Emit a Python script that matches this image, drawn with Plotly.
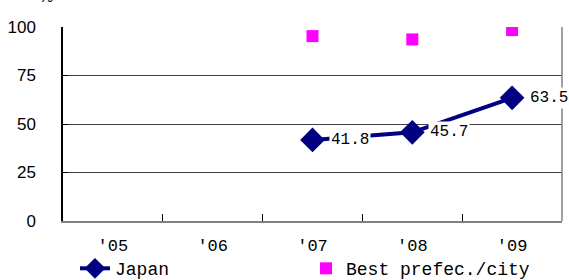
import plotly.graph_objects as go

years = ["'05", "'06", "'07", "'08", "'09"]
japan = [None, None, 41.8, 45.7, 63.5]
best = [None, None, 95.3, 93.6, 98.4]
y_ticks = [0, 25, 50, 75, 100]

mono = "Liberation Mono, DejaVu Sans Mono, monospace"
sans = "Liberation Sans, Arial, sans-serif"

fig = go.Figure()
fig.add_trace(go.Scatter(
    x=years, y=japan, name="Japan", mode="lines+markers",
    line=dict(color="#000080", width=4),
    marker=dict(symbol="diamond", size=19, color="#000080"),
    connectgaps=False,
))
fig.add_trace(go.Scatter(
    x=years, y=best, name="Best prefec./city", mode="markers",
    marker=dict(symbol="square", size=12, color="#FF00FF"),
))

for xv, yv in zip(years, japan):
    if yv is None:
        continue
    fig.add_annotation(
        x=xv, y=yv, text=f"{yv:.1f}", showarrow=False,
        xanchor="left", yanchor="middle", xshift=16,
        font=dict(family=mono, size=16, color="#000"),
        bgcolor="white", borderpad=1,
    )

fig.add_annotation(
    xref="paper", yref="paper", x=-0.052, y=1.103, yanchor="bottom",
    text="%", showarrow=False, font=dict(family=sans, size=16, color="#000"),
)

fig.add_shape(type="line", xref="paper", yref="paper", x0=1, x1=1, y0=0, y1=1,
              line=dict(color="#808080", width=1.5))

fig.update_layout(
    width=569, height=280,
    margin=dict(l=63, r=7, t=27, b=59, autoexpand=False),
    paper_bgcolor="white", plot_bgcolor="white",
    showlegend=True,
    legend=dict(
        orientation="h", x=0.024, y=-0.15, xanchor="left", yanchor="top",
        entrywidth=186, entrywidthmode="pixels",
        font=dict(family=mono, size=18, color="#000"),
        bgcolor="rgba(0,0,0,0)",
    ),
    xaxis=dict(
        type="category", categoryorder="array", categoryarray=years,
        range=[-0.5, 4.5],
        showgrid=False, showline=True, linecolor="#808080", linewidth=2,
        ticks="inside", ticklen=7, tickcolor="#000", tickson="boundaries",
        tickfont=dict(family=mono, size=17, color="#000"),
        ticklabelstandoff=8,
    ),
    yaxis=dict(
        range=[0, 100], tickvals=y_ticks,
        showgrid=True, gridcolor="#404040", gridwidth=1,
        showline=True, linecolor="#000", linewidth=1.5,
        ticks="inside", ticklen=5, tickcolor="#000",
        tickfont=dict(family=sans, size=17, color="#000"),
        ticklabelstandoff=22,
        zeroline=False,
    ),
)

fig.write_html("out.html", config={"displayModeBar": False},
               post_script="document.body.style.margin='0';")
